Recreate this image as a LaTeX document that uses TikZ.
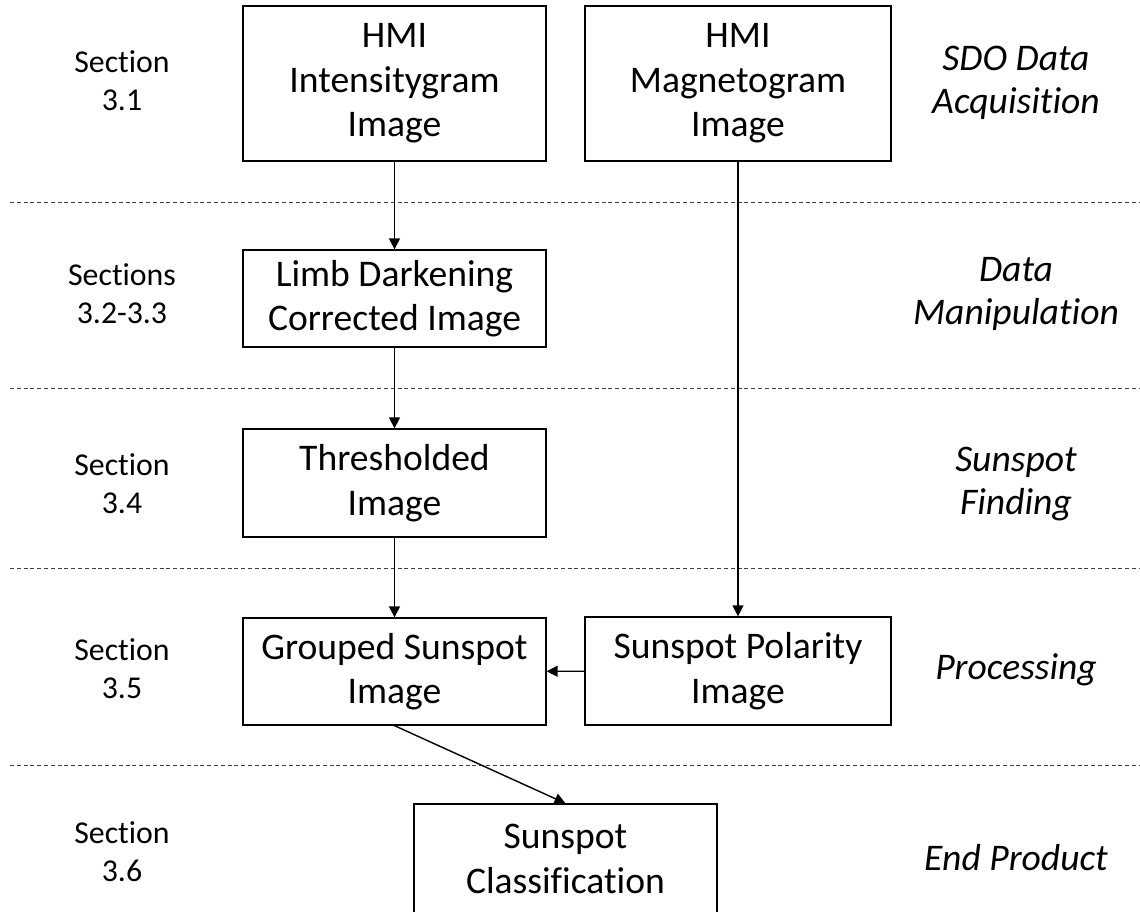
\documentclass[tikz,border=0pt]{standalone}
\usepackage{fontspec}
\setmainfont{Carlito}[Ligatures=NoCommon]
\usetikzlibrary{arrows.meta}
\usetikzlibrary{positioning}

\begin{document}
\begin{tikzpicture}[x=0.5pt,y=-0.5pt]
        \useasboundingbox (0,0) rectangle (1140,911);
        \clip (0,0) rectangle (1140,911);
        % stage separators
        \foreach \y in {202,388,568,765}
            \draw[black!75,line width=0.5pt,dash pattern=on 2pt off 1.4pt] (10,\y) -- (1140,\y);
        \begin{scope}[every node/.style={rectangle,draw,line width=0.65pt,inner sep=0pt,align=center,minimum width=151.5pt,font=\fontsize{18.8}{22.3}\selectfont}]
        \node[minimum height=77.5pt] (intens) at (394.5,83.5) {HMI\\Intensitygram\\Image};
        \node[minimum height=77.5pt,minimum width=153pt] (magneto) at (738,83.5) {HMI\\Magnetogram\\Image};
        \node[minimum height=48.5pt] (limb) at (394.5,298.5) {Limb Darkening\\Corrected Image};
        \node[minimum height=54pt] (thresh) at (394.5,483) {Thresholded\\Image};
        \node[minimum height=53.5pt] (grouped) at (394.5,671.5) {Grouped Sunspot\\Image};
        \node[minimum height=54pt,minimum width=153pt] (polarity) at (738,671) {Sunspot Polarity\\Image};
        \node[minimum height=55pt] (classif) at (565.5,859) {Sunspot\\Classification};
        \end{scope}
        \begin{scope}[every node/.style={align=center,font=\fontsize{15.9}{19}\selectfont}]
        \node (s1) at (122,81) {Section\\3.1};
        \node (s2) at (122,294) {Sections\\3.2-3.3};
        \node (s3) at (122,484) {Section\\3.4};
        \node (s4) at (122,669) {Section\\3.5};
        \node (s5) at (122,852) {Section\\3.6};
        \end{scope}
        \begin{scope}[every node/.style={align=center,font=\fontsize{18.8}{21.5}\itshape}]
        \node (acq) at (1016,83) {SDO Data\\Acquisition};
        \node (man) at (1016,294) {Data\\Manipulation};
        \node (find) at (1016,484) {Sunspot\\Finding};
        \node (proc) at (1016,670) {Processing};
        \node (prod) at (1016,858) {End Product};
        \end{scope}
        \begin{scope}[every edge/.style={draw=black,line width=0.7pt,-{Triangle[length=5.5pt,width=5.5pt]}}]
        \path (intens) edge (limb);
        \path (limb) edge (thresh);
        \path (thresh) edge (grouped);
        \path (magneto) edge (polarity);
        \path (polarity) edge (grouped);
        \path (grouped.south) edge (classif.north);
        \end{scope}
        \end{tikzpicture}
\end{document}
